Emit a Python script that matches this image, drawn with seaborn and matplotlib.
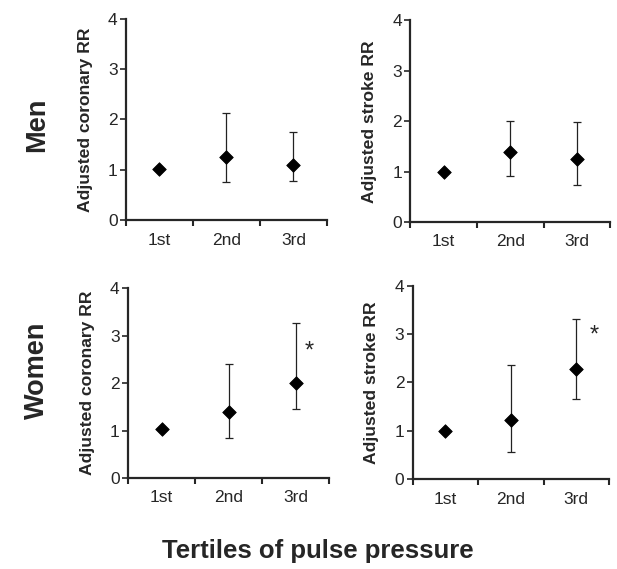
import matplotlib
matplotlib.use("Agg")
import matplotlib.pyplot as plt
import seaborn as sns
import pandas as pd

# Adjusted relative risks (point, lower CI, upper CI) per tertile of pulse pressure
tertiles = ["1st", "2nd", "3rd"]

men_coronary = [1.01, 1.25, 1.09]
men_coronary_lo = [1.01, 0.76, 0.77]
men_coronary_hi = [1.01, 2.13, 1.75]

men_stroke = [0.99, 1.39, 1.24]
men_stroke_lo = [0.99, 0.92, 0.74]
men_stroke_hi = [0.99, 2.01, 1.98]

women_coronary = [1.03, 1.39, 2.01]
women_coronary_lo = [1.03, 0.85, 1.45]
women_coronary_hi = [1.03, 2.40, 3.28]

women_stroke = [1.00, 1.23, 2.27]
women_stroke_lo = [1.00, 0.57, 1.66]
women_stroke_hi = [1.00, 2.35, 3.31]

sns.set_style("ticks")
plt.rcParams["font.family"] = ["Liberation Sans", "DejaVu Sans"]

fig = plt.figure(figsize=(6.17, 5.69), dpi=100)

# rect, values, lower, upper, y label, star (x, y) or None
panels = [
    ([0.204, 0.613, 0.326, 0.354], men_coronary, men_coronary_lo, men_coronary_hi, "Adjusted coronary RR", None),
    ([0.665, 0.610, 0.324, 0.354], men_stroke, men_stroke_lo, men_stroke_hi, "Adjusted stroke RR", None),
    ([0.2075, 0.160, 0.326, 0.333], women_coronary, women_coronary_lo, women_coronary_hi, "Adjusted coronary RR", (2.2, 2.66)),
    ([0.669, 0.158, 0.318, 0.340], women_stroke, women_stroke_lo, women_stroke_hi, "Adjusted stroke RR", (2.27, 2.97)),
]

for rect, rr, lo, hi, ylab, star in panels:
    ax = fig.add_axes(rect)
    df = pd.DataFrame({"pos": range(len(tertiles)), "rr": rr, "lo": lo, "hi": hi})
    has_ci = df["hi"] > df["lo"]
    ax.errorbar(df["pos"][has_ci], df["rr"][has_ci],
                yerr=[(df["rr"] - df["lo"])[has_ci], (df["hi"] - df["rr"])[has_ci]],
                fmt="none", ecolor="#222222", elinewidth=0.9, capsize=3, capthick=0.9)
    sns.scatterplot(data=df, x="pos", y="rr", marker="D", s=48, color="black",
                    edgecolor="black", ax=ax, zorder=3, legend=False)
    if star is not None:
        ax.text(star[0], star[1], "*", fontsize=17, ha="center", va="center")
    ax.set_xlim(-0.5, 2.5)
    ax.set_ylim(0, 4)
    ax.set_yticks([0, 1, 2, 3, 4])
    ax.set_xticks([-0.5, 0.5, 1.5, 2.5])
    ax.set_xticklabels([])
    ax.set_xticks(range(len(tertiles)), minor=True)
    ax.set_xticklabels(tertiles, minor=True)
    ax.tick_params(axis="x", which="minor", length=0, labelsize=12.5, pad=9)
    ax.tick_params(axis="x", which="major", length=4, width=1.5, direction="out")
    ax.tick_params(axis="y", length=4, width=1.2, labelsize=12.5, pad=2)
    ax.set_xlabel("")
    ax.set_ylabel(ylab, fontsize=12.6, fontweight="bold", labelpad=11)
    for side in ["left", "bottom"]:
        ax.spines[side].set_linewidth(1.6)
    sns.despine(ax=ax)

fig.text(0.06, 0.78, "Men", rotation=90, fontsize=19.5, fontweight="bold", ha="center", va="center")
fig.text(0.06, 0.35, "Women", rotation=90, fontsize=19.5, fontweight="bold", ha="center", va="center")
fig.text(0.515, 0.032, "Tertiles of pulse pressure", fontsize=18.5, fontweight="bold", ha="center", va="center")

fig.savefig("out.png", dpi=100)
